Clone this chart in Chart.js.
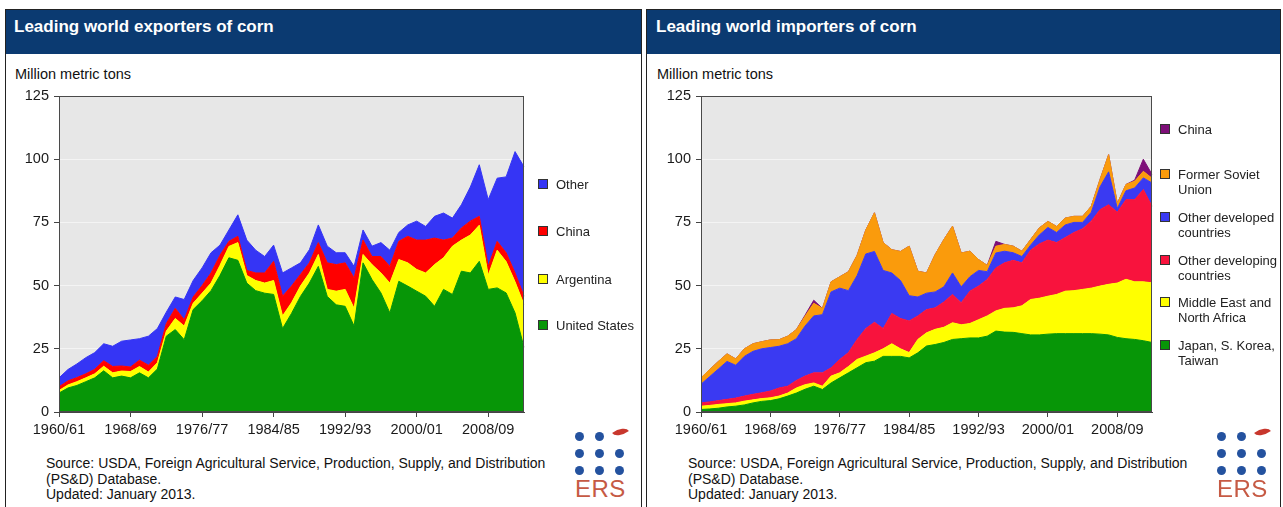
<!DOCTYPE html>
<html>
<head>
<meta charset="utf-8">
<script src="https://cdn.jsdelivr.net/npm/chart.js@4.4.1/dist/chart.umd.min.js"></script>
<style>
  html, body { margin: 0; padding: 0; }
  body { width: 1283px; height: 507px; background: #fff; position: relative; overflow: hidden;
         font-family: "Liberation Sans", Arial, Helvetica, sans-serif; color: #111; }
  .panel { position: absolute; top: 9px; height: 520px; border: 1px solid #222; box-sizing: border-box; background: #fff; }
  .head { position: absolute; left: 0; right: 0; top: 0; height: 44px; background: #0b3a71; }
  .title { position: absolute; color: #fff; font-weight: bold; font-size: 17px; line-height: 17px; white-space: nowrap; }
  .unit { position: absolute; font-size: 14.5px; line-height: 14.5px; white-space: nowrap; color: #111; }
  .src { position: absolute; font-size: 14px; line-height: 15.5px; white-space: nowrap; color: #111; }
  canvas { position: absolute; }
  .lg { position: absolute; font-size: 13px; line-height: 15px; white-space: nowrap; color: #222; }
  .sw { position: absolute; width: 10px; height: 10px; box-sizing: border-box; border: 1px solid #333; }
  .dot { position: absolute; width: 9px; height: 9px; border-radius: 50%; background: #24529f; }
  .leaf { position: absolute; width: 15px; height: 8px; background: #c8372d; border-radius: 0 100% 0 100%; transform: rotate(-35deg); }
  .ers { position: absolute; font-size: 24px; line-height: 24px; color: #c65a44; letter-spacing: 0.5px; }
</style>
</head>
<body>

<div class="panel" style="left:5px; width:637px;"><div class="head"></div></div>
<div class="panel" style="left:646px; width:635px;"><div class="head"></div></div>

<div class="title" style="left:14px; top:18px;">Leading world exporters of corn</div>
<div class="title" style="left:656px; top:18px;">Leading world importers of corn</div>

<div class="unit" style="left:15px; top:67px;">Million metric tons</div>
<div class="unit" style="left:657px; top:67px;">Million metric tons</div>

<canvas id="expChart" width="540" height="362" style="left:0px; top:80px; width:540px; height:362px;"></canvas>
<canvas id="impChart" width="520" height="362" style="left:642px; top:80px; width:520px; height:362px;"></canvas>

<div id="expLegend"></div>
<div id="impLegend"></div>

<div class="src" style="left:46px; top:456px;">Source: USDA, Foreign Agricultural Service, Production, Supply, and Distribution<br>(PS&amp;D) Database.<br>Updated: January 2013.</div>
<div class="src" style="left:688px; top:456px;">Source: USDA, Foreign Agricultural Service, Production, Supply, and Distribution<br>(PS&amp;D) Database.<br>Updated: January 2013.</div>

<div id="logos"></div>

<script>
// ---------- categories ----------
const categories = ["1960/61","1961/62","1962/63","1963/64","1964/65","1965/66","1966/67","1967/68","1968/69","1969/70",
  "1970/71","1971/72","1972/73","1973/74","1974/75","1975/76","1976/77","1977/78","1978/79","1979/80",
  "1980/81","1981/82","1982/83","1983/84","1984/85","1985/86","1986/87","1987/88","1988/89","1989/90",
  "1990/91","1991/92","1992/93","1993/94","1994/95","1995/96","1996/97","1997/98","1998/99","1999/00",
  "2000/01","2001/02","2002/03","2003/04","2004/05","2005/06","2006/07","2007/08","2008/09","2009/10",
  "2010/11","2011/12","2012/13"];
const tickEvery = 8;
const yTicks = [0, 25, 50, 75, 100, 125];

// ---------- exporters (million metric tons) ----------
const expUnitedStates = [7.5,9.5,10.5,12.0,13.5,16.3,13.5,14.2,13.5,15.5,13.5,17.0,30.0,32.6,28.6,40.5,44.0,48.0,54.0,61.0,60.0,51.0,48.0,47.0,46.5,33.0,39.0,45.7,51.0,57.6,45.7,42.4,41.8,34.0,59.0,52.4,47.1,39.2,51.7,49.8,47.8,45.8,41.8,48.5,46.5,55.7,55.0,59.6,48.5,49.1,47.1,39.2,25.6];
const expArgentina    = [1.0,1.2,1.5,1.5,1.6,1.8,2.0,2.0,2.5,2.5,2.3,2.5,2.0,4.4,5.4,2.5,3.0,3.0,4.0,4.5,7.0,3.0,4.0,4.0,5.5,5.0,4.2,4.1,4.0,4.7,2.8,5.4,6.7,7.0,3.3,5.9,7.9,11.8,8.6,9.2,8.6,9.2,16.5,12.5,19.1,12.3,15.0,14.3,5.6,14.9,12.4,12.3,16.9];
const expChina        = [1.5,1.6,1.6,1.6,1.8,2.2,2.5,2.0,1.8,2.5,2.7,2.5,3.0,4.0,2.5,2.5,3.0,4.0,4.0,2.0,2.5,2.0,3.0,4.0,7.6,7.8,6.6,4.6,4.0,4.7,10.5,10.5,10.5,12.0,5.7,3.2,6.5,6.6,7.2,10.5,11.6,13.0,10.5,7.0,3.2,4.8,5.5,3.5,3.5,3.5,3.5,3.5,3.3];
const expOther        = [3.5,4.5,5.4,6.4,6.6,6.7,8.0,9.8,10.7,8.5,11.5,11.0,4.5,4.5,8.0,6.5,7.0,8.0,4.0,4.5,8.5,12.0,9.0,6.5,6.4,9.2,7.2,4.6,5.2,7.0,6.6,4.7,4.0,4.6,4.0,4.1,5.5,6.4,3.5,4.5,7.5,5.4,8.6,10.7,7.9,9.2,13.5,20.4,26.4,25.0,30.0,48.0,51.2];

// ---------- importers (million metric tons) ----------
const impJapanKoreaTaiwan = [1.0,1.2,1.5,2.0,2.3,2.8,3.6,4.2,4.5,5.2,6.3,7.5,9.0,10.2,8.9,11.5,13.5,15.5,17.5,19.5,20.1,22.0,22.0,22.0,21.4,23.4,26.1,26.7,27.5,28.7,29.0,29.3,29.3,30.0,32.0,31.6,31.5,31.0,30.5,30.5,30.8,31.0,31.0,31.0,31.0,31.0,30.8,30.5,29.5,29.0,28.7,28.2,27.5];
const impMiddleEastNAfrica = [1.3,1.4,1.5,1.3,1.3,1.5,1.2,1.1,1.1,1.1,1.2,2.0,1.8,1.3,1.3,2.7,2.0,2.5,3.3,2.6,3.3,3.0,5.0,3.0,2.1,5.3,5.2,6.0,6.0,6.6,5.5,5.7,7.2,8.0,8.0,9.4,9.7,11.0,14.0,14.5,15.0,15.5,16.8,17.0,17.5,18.0,19.0,20.0,21.5,23.5,22.8,23.3,23.6];
const impOtherDeveloping   = [1.3,1.4,1.5,1.7,1.9,2.0,2.2,2.3,2.7,3.2,2.7,3.0,3.4,4.0,5.3,3.3,5.3,5.5,7.9,10.9,12.1,8.0,12.0,12.0,12.5,9.3,9.2,8.5,10.0,11.2,8.7,12.8,13.3,14.4,17.0,18.0,18.8,17.0,19.5,21.5,22.2,20.5,21.2,23.0,24.0,26.5,30.2,31.5,28.0,31.5,32.5,36.5,30.3];
const impOtherDeveloped    = [7.4,10.0,12.5,15.0,13.0,15.7,17.0,17.4,17.2,16.5,16.8,16.5,19.8,22.5,23.0,30.0,28.2,24.5,25.3,29.5,28.0,23.0,16.0,15.0,10.0,7.5,6.5,6.3,6.0,8.5,6.3,5.7,6.2,3.1,5.9,4.6,3.0,2.5,2.0,3.5,5.0,4.0,5.0,4.0,2.5,3.5,9.0,13.0,1.5,3.5,4.6,4.6,9.2];
const impFormerSoviet      = [2.5,2.8,3.0,3.0,2.5,3.0,3.0,2.8,3.0,2.6,3.0,3.6,3.9,5.0,2.5,4.0,4.5,7.5,8.0,9.5,15.3,11.0,9.2,11.5,19.6,10.2,8.0,14.8,18.7,18.5,13.4,10.1,4.3,2.5,2.7,2.7,2.6,2.1,2.2,2.8,2.4,2.4,2.7,2.4,2.4,2.4,2.9,6.8,2.0,2.5,2.7,2.6,1.9];
const impChina             = [0,0,0,0,0,0,0,0,0,0,0,0,0.4,1.2,0,0,0,0,0,0,0,0,0,0,0,0,0,0,0,0,0,0,0,0,1.9,0,0,0,0,0,0,0,0,0,0,0,0,0,0,0,0.4,4.8,1.5];

// ---------- series definitions (bottom of stack first) ----------
const expNames  = ["United States", "Argentina", "China", "Other"];
const expColors = ["#079607", "#ffff00", "#ff0000", "#3535f5"];
const expSeries = [expUnitedStates, expArgentina, expChina, expOther];

const impNames  = ["Japan, S. Korea,\nTaiwan", "Middle East and\nNorth Africa", "Other developing\ncountries", "Other developed\ncountries", "Former Soviet\nUnion", "China"];
const impColors = ["#079607", "#ffff00", "#f8133d", "#3a3af2", "#fa9b0c", "#7d0f78"];
const impSeries = [impJapanKoreaTaiwan, impMiddleEastNAfrica, impOtherDeveloping, impOtherDeveloped, impFormerSoviet, impChina];

Chart.defaults.font.family = '"Liberation Sans", Arial, Helvetica, sans-serif';
Chart.defaults.color = '#222';

const areaPlugin = {
  id: 'areaPlugin',
  beforeDraw(chart) {
    const { ctx, chartArea: a } = chart;
    ctx.save();
    ctx.fillStyle = '#e7e7e7';
    ctx.fillRect(a.left, a.top, a.right - a.left, a.bottom - a.top);
    ctx.restore();
  },
  afterDraw(chart) {
    const { ctx, chartArea: a } = chart;
    ctx.save();
    ctx.strokeStyle = '#4a4a4a';
    ctx.lineWidth = 1;
    ctx.strokeRect(Math.round(a.left) + 0.5, Math.round(a.top) + 0.5,
                   Math.round(a.right - a.left) - 1, Math.round(a.bottom - a.top) - 1);
    ctx.restore();
  }
};

function makeChart(canvasId, names, colors, series, padRight) {
  const datasets = series.map((vals, i) => ({
    label: names[i].replace('\n', ' '),
    data: vals,
    backgroundColor: colors[i],
    borderColor: colors[i],
    borderWidth: 1,
    fill: i === 0 ? 'origin' : '-1',
    pointRadius: 0,
    tension: 0
  }));
  return new Chart(document.getElementById(canvasId), {
    type: 'line',
    data: { labels: categories, datasets },
    options: {
      responsive: false,
      animation: false,
      devicePixelRatio: 1,
      layout: { padding: { left: 19, top: 16, right: padRight, bottom: 0 } },
      plugins: { legend: { display: false }, tooltip: { enabled: false } },
      elements: { line: { borderJoinStyle: 'miter' } },
      scales: {
        x: {
          type: 'category',
          offset: false,
          grid: { drawOnChartArea: false, drawTicks: true, tickLength: 5, color: '#444', tickColor: '#444' },
          border: { display: true, color: '#444' },
          ticks: {
            autoSkip: false, maxRotation: 0, minRotation: 0, padding: 4,
            font: { size: 14.5 }, color: '#1a1a1a',
            callback: function (value, index) { return index % tickEvery === 0 ? categories[index] : null; }
          },
          afterFit: (scale) => { scale.height = 30; }
        },
        y: {
          stacked: true,
          min: yTicks[0], max: yTicks[yTicks.length - 1],
          afterBuildTicks: (scale) => { scale.ticks = yTicks.map(v => ({ value: v })); },
          grid: { drawOnChartArea: true, color: 'rgba(255,255,255,0.55)', tickColor: '#444', tickLength: 5 },
          border: { display: true, color: '#444' },
          ticks: { padding: 5, font: { size: 14.5 }, color: '#1a1a1a' },
          afterFit: (scale) => { scale.width = 40; }
        }
      }
    },
    plugins: [areaPlugin]
  });
}

makeChart('expChart', expNames, expColors, expSeries, 16);
makeChart('impChart', impNames, impColors, impSeries, 10);

// ---------- HTML legends (top item first) ----------
function legend(containerId, names, colors, swLeft, txtLeft, centers) {
  const box = document.getElementById(containerId);
  const order = names.map((n, i) => i).reverse();
  order.forEach((idx, k) => {
    const cy = centers[k];
    const sw = document.createElement('div');
    sw.className = 'sw';
    sw.style.left = swLeft + 'px';
    sw.style.top = (cy - 5) + 'px';
    sw.style.background = colors[idx];
    box.appendChild(sw);
    const t = document.createElement('div');
    t.className = 'lg';
    t.style.left = txtLeft + 'px';
    t.style.top = (cy - 7.5) + 'px';
    t.innerHTML = names[idx].replace('\n', '<br>');
    box.appendChild(t);
  });
}
legend('expLegend', expNames, expColors, 538, 556, [184, 231, 279, 325]);
legend('impLegend', impNames, impColors, 1160, 1178, [129, 174, 217, 260, 302, 345]);

// ---------- ERS logos ----------
function logo(x0) {
  const box = document.getElementById('logos');
  const xs = [0, 20, 40], ys = [0, 17, 34];
  ys.forEach((yy, r) => xs.forEach((xx, c) => {
    if (r === 0 && c === 2) {
      const lf = document.createElement('div');
      lf.className = 'leaf';
      lf.style.left = (x0 + xx - 6) + 'px';
      lf.style.top = (433 + yy - 5) + 'px';
      box.appendChild(lf);
    } else {
      const d = document.createElement('div');
      d.className = 'dot';
      d.style.left = (x0 + xx - 4.5) + 'px';
      d.style.top = (436 + yy - 4.5) + 'px';
      box.appendChild(d);
    }
  }));
  const t = document.createElement('div');
  t.className = 'ers';
  t.style.left = (x0 - 4) + 'px';
  t.style.top = '477px';
  t.textContent = 'ERS';
  box.appendChild(t);
}
logo(579);
logo(1221);
</script>
</body>
</html>
